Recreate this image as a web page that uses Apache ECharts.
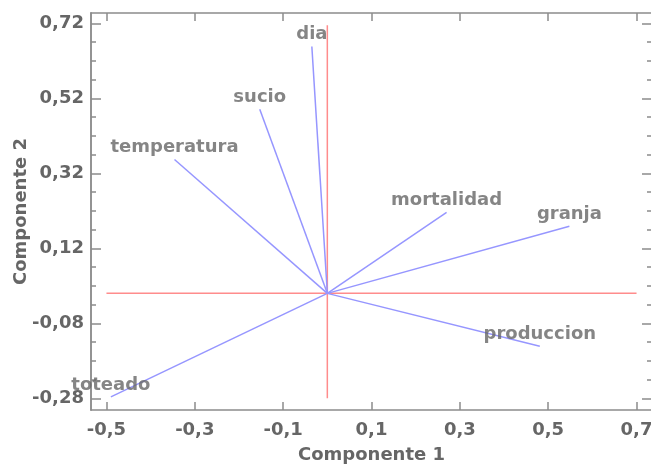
<!DOCTYPE html>
<html>
<head>
<meta charset="utf-8">
<script src="https://cdn.jsdelivr.net/npm/echarts@6/dist/echarts.min.js"></script>
<style>
html,body{margin:0;padding:0;background:#fff;}
#chart{width:651px;height:470px;}
</style>
</head>
<body>
<div id="chart"></div>
<script>
// Data
var variables = ['dia', 'sucio', 'temperatura', 'mortalidad', 'granja', 'produccion', 'toteado'];
var comp1 = [-0.035, -0.153, -0.346, 0.270, 0.548, 0.481, -0.490];
var comp2 = [0.658, 0.491, 0.357, 0.216, 0.179, -0.141, -0.276];
var xTicks = [-0.5, -0.3, -0.1, 0.1, 0.3, 0.5, 0.7];
var yTicks = [-0.28, -0.08, 0.12, 0.32, 0.52, 0.72];
var yMinorTicks = [-0.23, -0.18, -0.13, -0.03, 0.02, 0.07, 0.17, 0.22, 0.27, 0.37, 0.42, 0.47, 0.57, 0.62, 0.67];
var hRef = [[-0.5, 0], [0.7, 0]];
var vRef = [[0, -0.28], [0, 0.715]];

var FONT = '"DejaVu Sans", sans-serif';
var FS = 18;
var TXT = '#666666';
var AX = '#8c8c8c';
var XMIN = -0.535, XMAX = 0.735, YMIN = -0.311, YMAX = 0.7475;

function xAx(pos, labels) {
  return {
    type: 'value', position: pos, min: XMIN, max: XMAX,
    name: labels ? 'Componente 1' : '', nameLocation: 'middle', nameGap: 36,
    nameTextStyle: {color: TXT, fontFamily: FONT, fontWeight: 'bold', fontSize: FS},
    axisLine: {show: true, onZero: false, lineStyle: {color: AX, width: 1.5}},
    axisTick: {show: true, inside: true, length: 8, customValues: xTicks, lineStyle: {color: AX, width: 1.5}},
    axisLabel: {show: labels, customValues: xTicks, margin: 11, color: TXT, fontFamily: FONT, fontWeight: 'bold', fontSize: FS,
      formatter: function (v) { return v.toFixed(1).replace('.', ','); }},
    splitLine: {show: false}
  };
}
function yAx(pos, ticks, len, labels) {
  return {
    type: 'value', position: pos, min: YMIN, max: YMAX,
    name: labels ? 'Componente 2' : '', nameLocation: 'middle', nameGap: 61, nameMoveOverlap: false,
    nameTextStyle: {color: TXT, fontFamily: FONT, fontWeight: 'bold', fontSize: FS},
    axisLine: {show: true, onZero: false, lineStyle: {color: AX, width: 1.5}},
    axisTick: {show: true, inside: true, length: len, customValues: ticks, lineStyle: {color: AX, width: 1.5}},
    axisLabel: {show: labels, customValues: yTicks, margin: 7, color: TXT, fontFamily: FONT, fontWeight: 'bold', fontSize: FS,
      formatter: function (v) { return v.toFixed(2).replace('.', ','); }},
    splitLine: {show: false}
  };
}

var series = [
  {type: 'line', data: hRef, xAxisIndex: 0, yAxisIndex: 0, symbol: 'none', silent: true,
   lineStyle: {color: '#ff8c8c', width: 1.5}, z: 2},
  {type: 'line', data: vRef, xAxisIndex: 0, yAxisIndex: 0, symbol: 'none', silent: true,
   lineStyle: {color: '#ff8c8c', width: 1.5}, z: 2}
];
variables.forEach(function (name, i) {
  series.push({
    type: 'line', name: name, xAxisIndex: 0, yAxisIndex: 0,
    data: [[0, 0], [comp1[i], comp2[i]]], symbol: 'none', silent: true,
    lineStyle: {color: '#9696ff', width: 1.5}, z: 3
  });
});
series.push({
  type: 'scatter', xAxisIndex: 0, yAxisIndex: 0, symbolSize: 0, silent: true, z: 5,
  data: variables.map(function (n, i) { return {name: n, value: [comp1[i], comp2[i]]}; }),
  label: {show: true, position: 'top', distance: 3, formatter: '{b}',
    color: TXT, fontFamily: FONT, fontWeight: 'bold', fontSize: FS}
});

var chart = echarts.init(document.getElementById('chart'), null, {renderer: 'canvas'});
chart.setOption({
  animation: false,
  backgroundColor: '#ffffff',
  grid: {left: 91, top: 13, width: 561, height: 397, containLabel: false, outerBoundsMode: 'none'},
  xAxis: [xAx('bottom', true), xAx('top', false)],
  yAxis: [yAx('left', yTicks, 10, true), yAx('left', yMinorTicks, 5, false),
          yAx('right', yTicks, 10, false), yAx('right', yMinorTicks, 5, false)],
  series: series
});
</script>
</body>
</html>
